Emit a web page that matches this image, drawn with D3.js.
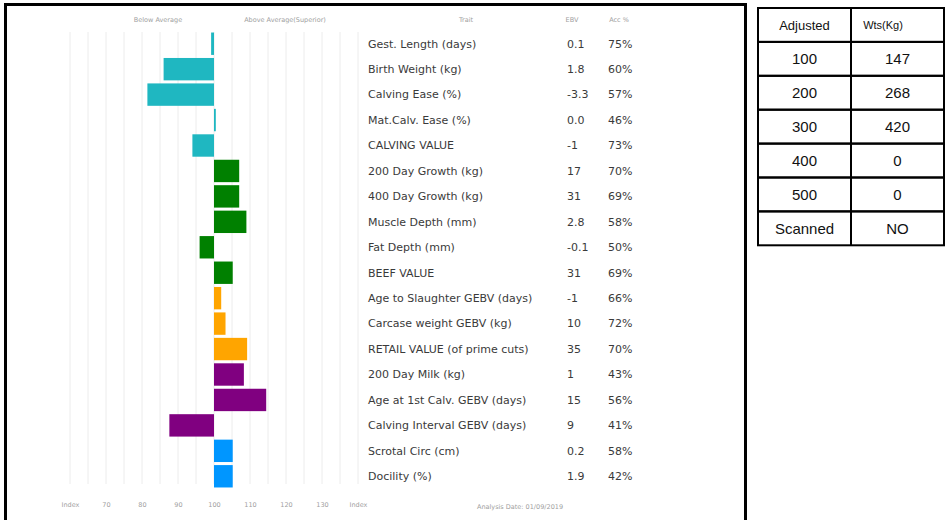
<!DOCTYPE html>
<html>
<head>
<meta charset="utf-8">
<script src="https://cdn.jsdelivr.net/npm/d3@7"></script>
<style>
  html, body { margin: 0; padding: 0; background: #fff; }
  svg { display: block; }
</style>
</head>
<body>
<div id="chart"></div>
<script>
// Bull EBV summary chart + adjusted weights table
const traits = [
  'Gest. Length (days)', 'Birth Weight (kg)', 'Calving Ease (%)', 'Mat.Calv. Ease (%)',
  'CALVING VALUE', '200 Day Growth (kg)', '400 Day Growth (kg)', 'Muscle Depth (mm)',
  'Fat Depth (mm)', 'BEEF VALUE', 'Age to Slaughter GEBV (days)', 'Carcase weight GEBV (kg)',
  'RETAIL VALUE (of prime cuts)', '200 Day Milk (kg)', 'Age at 1st Calv. GEBV (days)',
  'Calving Interval GEBV (days)', 'Scrotal Circ (cm)', 'Docility (%)'
];
const ebvs = ['0.1', '1.8', '-3.3', '0.0', '-1', '17', '31', '2.8', '-0.1', '31', '-1', '10', '35', '1', '15', '9', '0.2', '1.9'];
const accs = ['75%', '60%', '57%', '46%', '73%', '70%', '69%', '58%', '50%', '69%', '66%', '72%', '70%', '43%', '56%', '41%', '58%', '42%'];
const indexValues = [99.2, 86, 81.5, 100.5, 94, 107, 107, 109, 96, 105.2, 102, 103.2, 109.2, 108.3, 114.5, 87.6, 105.2, 105.2];
const groups = ['calving', 'calving', 'calving', 'calving', 'calving', 'beef', 'beef', 'beef', 'beef', 'beef',
  'carcase', 'carcase', 'carcase', 'maternal', 'maternal', 'maternal', 'other', 'other'];

const tickValues = [60, 70, 80, 90, 100, 110, 120, 130, 140];
const tickLabels = ['Index', '70', '80', '90', '100', '110', '120', '130', 'Index'];
const gridValues = d3.range(60, 141, 5);

const adjDays = ['100', '200', '300', '400', '500', 'Scanned'];
const adjWts = ['147', '268', '420', '0', '0', 'NO'];

const width = 947;
const height = 520;

const svg = d3.select('#chart')
  .append('svg')
  .attr('width', width)
  .attr('height', height);

const color = d3.scaleOrdinal()
  .domain(['calving', 'beef', 'carcase', 'maternal', 'other'])
  .range(['#1fb7c1', '#008000', '#ffa500', '#800080', '#0096ff']);

const x = d3.scaleLinear().domain([60, 140]).range([70, 358]);
const y = d3.scaleBand().domain(traits).range([31, 489]).paddingInner(0.12).paddingOuter(0.06);

const font = '"DejaVu Sans", sans-serif';

// Frame
svg.append('path')
  .attr('d', `M5.5,${height} V4.5 H745.5 V${height}`)
  .attr('fill', 'none')
  .attr('stroke', '#000')
  .attr('stroke-width', 3);

// Gridlines
svg.append('g')
  .selectAll('line')
  .data(gridValues)
  .join('line')
  .attr('x1', d => x(d))
  .attr('x2', d => x(d))
  .attr('y1', 32)
  .attr('y2', 484)
  .attr('stroke', '#ececec')
  .attr('stroke-width', 1);

// Bars
svg.append('g')
  .selectAll('rect')
  .data(traits)
  .join('rect')
  .attr('x', (d, i) => Math.min(x(100), x(indexValues[i])))
  .attr('width', (d, i) => Math.max(1.5, Math.abs(x(indexValues[i]) - x(100))))
  .attr('y', d => y(d))
  .attr('height', y.bandwidth())
  .attr('fill', (d, i) => color(groups[i]));

// Header labels
const header = [
  { t: 'Below Average', x: 158 },
  { t: 'Above Average(Superior)', x: 285 },
  { t: 'Trait', x: 466 },
  { t: 'EBV', x: 572 },
  { t: 'Acc %', x: 619 }
];
svg.append('g')
  .selectAll('text')
  .data(header)
  .join('text')
  .attr('x', d => d.x)
  .attr('y', 22)
  .attr('text-anchor', 'middle')
  .style('font-family', font)
  .style('font-size', '6.5px')
  .style('fill', '#a0a0a0')
  .text(d => d.t);

// Trait rows
const rows = svg.append('g')
  .style('font-family', font)
  .style('font-size', '11px')
  .style('fill', '#3a3a3a');

rows.selectAll('.trait')
  .data(traits)
  .join('text')
  .attr('class', 'trait')
  .attr('x', 368)
  .attr('y', d => y(d) + y.bandwidth() / 2)
  .attr('dy', '0.35em')
  .text(d => d);

rows.selectAll('.ebv')
  .data(traits)
  .join('text')
  .attr('class', 'ebv')
  .attr('x', 567)
  .attr('y', d => y(d) + y.bandwidth() / 2)
  .attr('dy', '0.35em')
  .text((d, i) => ebvs[i]);

rows.selectAll('.acc')
  .data(traits)
  .join('text')
  .attr('class', 'acc')
  .attr('x', 608)
  .attr('y', d => y(d) + y.bandwidth() / 2)
  .attr('dy', '0.35em')
  .text((d, i) => accs[i]);

// Bottom axis
const axis = d3.axisBottom(x)
  .tickValues(tickValues)
  .tickSize(0)
  .tickPadding(0)
  .tickFormat((d, i) => tickLabels[i]);

const axisG = svg.append('g')
  .attr('transform', 'translate(0, 502)')
  .call(axis);
axisG.select('.domain').remove();
axisG.selectAll('text')
  .style('font-family', font)
  .style('font-size', '6.5px')
  .style('fill', '#a0a0a0');

svg.append('text')
  .attr('x', 520)
  .attr('y', 509)
  .attr('text-anchor', 'middle')
  .style('font-family', font)
  .style('font-size', '6.5px')
  .style('fill', '#a0a0a0')
  .text('Analysis Date: 01/09/2019');

// Adjusted weights table
const tbl = { x0: 758, xMid: 851, x1: 944, y0: 8, rowH: 33.9 };
const tableRows = [{ a: 'Adjusted', b: 'Wts(Kg)', head: true }]
  .concat(adjDays.map((d, i) => ({ a: d, b: adjWts[i], head: false })));

const tableY = d3.scaleBand()
  .domain(d3.range(tableRows.length))
  .range([tbl.y0, tbl.y0 + tbl.rowH * tableRows.length]);

const tg = svg.append('g');
tg.selectAll('.cell-row')
  .data(tableRows)
  .join('rect')
  .attr('class', 'cell-row')
  .attr('x', tbl.x0)
  .attr('y', (d, i) => tableY(i))
  .attr('width', tbl.x1 - tbl.x0)
  .attr('height', tableY.bandwidth())
  .attr('fill', 'none')
  .attr('stroke', '#000')
  .attr('stroke-width', 2);

tg.append('line')
  .attr('x1', tbl.xMid).attr('x2', tbl.xMid)
  .attr('y1', tbl.y0).attr('y2', tbl.y0 + tbl.rowH * tableRows.length)
  .attr('stroke', '#000')
  .attr('stroke-width', 2);

const tFont = '"Liberation Sans", Arial, sans-serif';
tg.selectAll('.ca')
  .data(tableRows)
  .join('text')
  .attr('class', 'ca')
  .attr('x', (tbl.x0 + tbl.xMid) / 2)
  .attr('y', (d, i) => tableY(i) + tableY.bandwidth() / 2)
  .attr('dy', '0.36em')
  .attr('text-anchor', 'middle')
  .style('font-family', tFont)
  .style('font-size', d => d.head ? '13px' : '15px')
  .style('fill', '#111')
  .text(d => d.a);

tg.selectAll('.cb')
  .data(tableRows)
  .join('text')
  .attr('class', 'cb')
  .attr('x', d => d.head ? 883 : (tbl.xMid + tbl.x1) / 2)
  .attr('y', (d, i) => tableY(i) + tableY.bandwidth() / 2)
  .attr('dy', '0.36em')
  .attr('text-anchor', 'middle')
  .style('font-family', tFont)
  .style('font-size', d => d.head ? '11px' : '15px')
  .style('fill', '#111')
  .text(d => d.b);
</script>
</body>
</html>
